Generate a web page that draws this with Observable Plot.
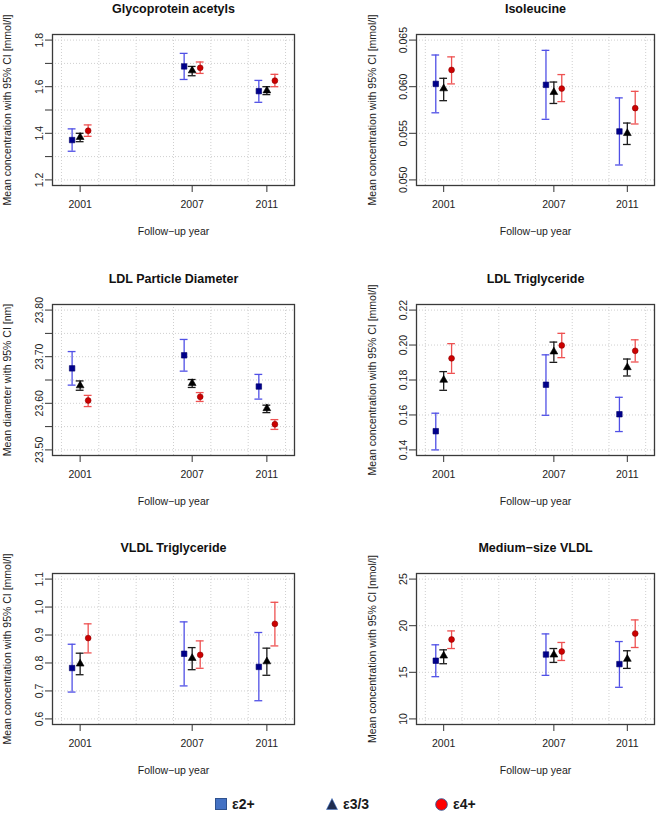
<!DOCTYPE html>
<html><head><meta charset="utf-8">
<script src="https://cdn.jsdelivr.net/npm/d3@7"></script>
<script src="https://cdn.jsdelivr.net/npm/@observablehq/plot@0.6"></script>
<style>
body{margin:0;background:#fff;}
#root{position:relative;width:660px;height:814px;font-family:"Liberation Sans",Arial,sans-serif;background:#fff;overflow:hidden;}
.panel{position:absolute;}
.leg{position:absolute;top:795px;height:18px;display:flex;align-items:center;font-family:"Liberation Sans",Arial,sans-serif;font-weight:bold;font-size:14px;color:#1a1a1a;}
.leg svg{margin-right:5px;}
</style></head><body><div id="root"></div>
<script>
// ---- data ----
const years = [2001, 2007, 2011];
const groups = ["ε2+", "ε3/3", "ε4+"];
const gridYears = [2000, 2002, 2004, 2006, 2008, 2010, 2012];
const xLimits = [2000, 2012];
const titles = ["Glycoprotein acetyls", "Isoleucine", "LDL Particle Diameter", "LDL Triglyceride", "VLDL Triglyceride", "Medium−size VLDL"];
const yLabels = [
  "Mean concentration with 95% CI [mmol/l]",
  "Mean concentration with 95% CI [mmol/l]",
  "Mean diameter with 95% CI [nm]",
  "Mean concentration with 95% CI [mmol/l]",
  "Mean concentration with 95% CI [mmol/l]",
  "Mean concentration with 95% CI [nmol/l]"
];
const xLabel = "Follow−up year";
const yLimits = [[1.2, 1.8], [0.05, 0.065], [23.5, 23.8], [0.14, 0.22], [0.6, 1.1], [10, 25]];
const yTicks = [
  [1.2, 1.3, 1.4, 1.5, 1.6, 1.7, 1.8],
  [0.050, 0.055, 0.060, 0.065],
  [23.50, 23.55, 23.60, 23.65, 23.70, 23.75, 23.80],
  [0.14, 0.16, 0.18, 0.20, 0.22],
  [0.6, 0.7, 0.8, 0.9, 1.0, 1.1],
  [10, 15, 20, 25]
];
const yTickLabels = [
  ["1.2", "", "1.4", "", "1.6", "", "1.8"],
  ["0.050", "0.055", "0.060", "0.065"],
  ["23.50", "", "23.60", "", "23.70", "", "23.80"],
  ["0.14", "0.16", "0.18", "0.20", "0.22"],
  ["0.6", "0.7", "0.8", "0.9", "1.0", "1.1"],
  ["10", "15", "20", "25"]
];
// values: [group][year]
const glycMean = [[1.371, 1.687, 1.581], [1.383, 1.669, 1.583], [1.411, 1.681, 1.626]];
const glycLo   = [[1.323, 1.631, 1.533], [1.364, 1.647, 1.566], [1.387, 1.657, 1.600]];
const glycHi   = [[1.419, 1.743, 1.627], [1.400, 1.687, 1.600], [1.436, 1.706, 1.653]];

const isoMean = [[0.0603, 0.0602, 0.0552], [0.0598, 0.0594, 0.0550], [0.0618, 0.0598, 0.0577]];
const isoLo   = [[0.0572, 0.0565, 0.0516], [0.0585, 0.0582, 0.0538], [0.0603, 0.0584, 0.0560]];
const isoHi   = [[0.0634, 0.0639, 0.0588], [0.0609, 0.0605, 0.0561], [0.0632, 0.0613, 0.0595]];

const ldlDMean = [[23.675, 23.703, 23.636], [23.638, 23.643, 23.589], [23.606, 23.614, 23.555]];
const ldlDLo   = [[23.639, 23.669, 23.609], [23.628, 23.634, 23.580], [23.593, 23.604, 23.544]];
const ldlDHi   = [[23.711, 23.737, 23.662], [23.648, 23.651, 23.596], [23.617, 23.623, 23.565]];

const ldlTMean = [[0.1507, 0.1773, 0.1604], [0.1800, 0.1962, 0.1872], [0.1924, 0.1998, 0.1967]];
const ldlTLo   = [[0.1400, 0.1598, 0.1505], [0.1741, 0.1901, 0.1823], [0.1838, 0.1928, 0.1903]];
const ldlTHi   = [[0.1610, 0.1944, 0.1701], [0.1848, 0.2017, 0.1920], [0.2008, 0.2067, 0.2030]];

const vldlTMean = [[0.782, 0.833, 0.786], [0.797, 0.817, 0.805], [0.889, 0.829, 0.940]];
const vldlTLo   = [[0.696, 0.718, 0.665], [0.758, 0.776, 0.756], [0.836, 0.781, 0.861]];
const vldlTHi   = [[0.867, 0.947, 0.909], [0.835, 0.855, 0.853], [0.940, 0.879, 1.017]];

const mvMean = [[16.24, 16.91, 15.88], [16.77, 16.88, 16.42], [18.52, 17.23, 19.16]];
const mvLo   = [[14.53, 14.67, 13.39], [15.92, 16.06, 15.42], [17.55, 16.27, 17.66]];
const mvHi   = [[17.95, 19.12, 18.30], [17.41, 17.55, 17.31], [19.44, 18.20, 20.62]];

const panelData = [
  [glycMean, glycLo, glycHi], [isoMean, isoLo, isoHi],
  [ldlDMean, ldlDLo, ldlDHi], [ldlTMean, ldlTLo, ldlTHi],
  [vldlTMean, vldlTLo, vldlTHi], [mvMean, mvLo, mvHi]
];

// ---- styles ----
const dodge = [-0.43, 0, 0.43];
const capHalf = 0.21;
const barColors = ["#5050e6", "#1a1a1a", "#ee5252"];
const pointFill = ["#00008b", "#000000", "#cc0000"];
const pointStroke = ["#000066", "#000000", "#8b0000"];
const symbols = ["square", "triangle", "circle"];
const symbolR = [3.1, 2.9, 2.9];
const boxTops = [33.5, 304, 573.3];
const boxH = 151;

const root = document.getElementById("root");

function panel(i) {
  const [mean, lo, hi] = panelData[i];
  const left = i % 2 === 0;
  const row = Math.floor(i / 2);
  const [a, b] = yLimits[i];
  const pad = (b - a) * 0.04;
  const xpad = (xLimits[1] - xLimits[0]) * 0.04;
  const marks = [
    Plot.gridX(gridYears, {stroke: "#cfcfcf", strokeOpacity: 1, strokeDasharray: "1,2", strokeWidth: 1}),
    Plot.gridY(yTicks[i], {stroke: "#cfcfcf", strokeOpacity: 1, strokeDasharray: "1,2", strokeWidth: 1}),
    Plot.axisX(years, {tickSize: 7, tickPadding: 8, tickFormat: d => String(d), label: null, stroke: "#333"}),
    Plot.axisY(yTicks[i], {tickSize: 7, tickPadding: 3, tickRotate: -90, label: null, stroke: "#333",
      tickFormat: d => yTickLabels[i][yTicks[i].indexOf(d)]})
  ];
  groups.forEach((g, gi) => {
    const rows = years.map((yr, yi) => ({group: g, year: yr, x: yr + dodge[gi], mean: mean[gi][yi], lo: lo[gi][yi], hi: hi[gi][yi]}));
    marks.push(
      Plot.ruleX(rows, {x: "x", y1: "lo", y2: "hi", stroke: barColors[gi], strokeWidth: 1.3}),
      Plot.ruleY(rows, {y: "lo", x1: d => d.x - capHalf, x2: d => d.x + capHalf, stroke: barColors[gi], strokeWidth: 1.3}),
      Plot.ruleY(rows, {y: "hi", x1: d => d.x - capHalf, x2: d => d.x + capHalf, stroke: barColors[gi], strokeWidth: 1.3}),
      Plot.dot(rows, {x: "x", y: "mean", symbol: symbols[gi], r: symbolR[gi], fill: pointFill[gi], stroke: pointStroke[gi], strokeWidth: 0.6})
    );
  });
  marks.push(
    Plot.frame({stroke: "#3a3a3a", strokeWidth: 1.3}),
    Plot.text([titles[i]], {frameAnchor: "top", dy: -26, lineAnchor: "middle", fontWeight: "bold", fontSize: 12.5, fill: "#111", textAnchor: "middle"}),
    Plot.text([yLabels[i]], {frameAnchor: "left", rotate: -90, dx: left ? -45 : -44, lineAnchor: "middle", fontSize: 10.5, fill: "#222", textAnchor: "middle"}),
    Plot.text([xLabel], {frameAnchor: "bottom", dy: 46, lineAnchor: "middle", fontSize: 10.5, fill: "#222", textAnchor: "middle"})
  );
  const chart = Plot.plot({
    width: 330, height: 33 + boxH + 62,
    marginLeft: left ? 52 : 86, marginRight: left ? 36 : 6,
    marginTop: 33, marginBottom: 62,
    x: {domain: [xLimits[0] - xpad, xLimits[1] + xpad]},
    y: {domain: [a - pad, b + pad]},
    style: {fontFamily: "'Liberation Sans', Arial, sans-serif", fontSize: "10.5px", color: "#222", background: "transparent", overflow: "visible"},
    marks
  });
  const div = document.createElement("div");
  div.className = "panel";
  div.style.left = (left ? 0 : 330) + "px";
  div.style.top = (boxTops[row] - 33) + "px";
  div.appendChild(chart);
  root.appendChild(div);
}
for (let i = 0; i < 6; i++) panel(i);

// ---- legend ----
const legendX = [215, 326, 435];
const legendIcons = [
  '<svg width="12" height="12"><rect x="0.5" y="0.5" width="11" height="11" fill="#4472c4" stroke="#2f528f"/></svg>',
  '<svg width="12" height="12"><polygon points="6,0.5 11.5,11.5 0.5,11.5" fill="#1f2d50" stroke="#4472c4" stroke-width="0.6"/></svg>',
  '<svg width="13" height="13"><circle cx="6.5" cy="6.5" r="5.8" fill="#ff0000" stroke="#2f528f" stroke-width="0.9"/></svg>'
];
groups.forEach((g, gi) => {
  const d = document.createElement("div");
  d.className = "leg";
  d.style.left = legendX[gi] + "px";
  d.innerHTML = legendIcons[gi] + "<span>" + g + "</span>";
  root.appendChild(d);
});
</script></body></html>
